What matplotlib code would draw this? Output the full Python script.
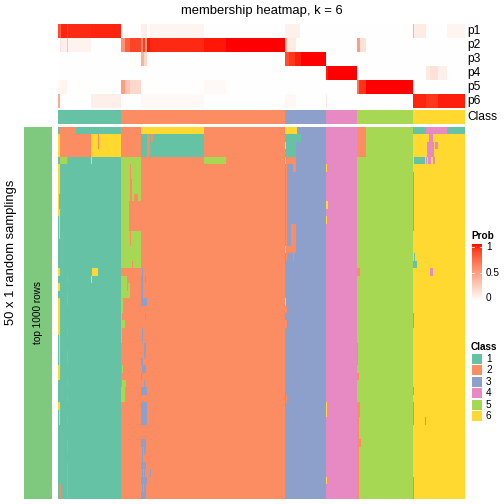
import numpy as np
import matplotlib
matplotlib.use("Agg")
import matplotlib.pyplot as plt
from matplotlib.colors import ListedColormap
from matplotlib.patches import Rectangle

plt.rcParams['font.family'] = ['Liberation Sans', 'DejaVu Sans']

# samples per consensus class (columns, left to right)
class_sizes = [63, 164, 41, 31, 56, 52]
class_names = ['1', '2', '3', '4', '5', '6']
class_colors = ['#66C2A5', '#FC8D62', '#8DA0CB', '#E78AC3', '#A6D854', '#FFD92F']
n_samplings = 50

# membership probabilities as (start col, end col, value); unlisted = 0
p1_segs = [(0, 2, 0.86), (2, 3, 0.78), (3, 9, 0.96), (9, 10, 0.85), (10, 33, 0.95),
           (33, 63, 0.96), (83, 89, 0.08), (92, 146, 0.05), (227, 242, 0.07),
           (355, 356, 0.4), (356, 368, 0.1), (389, 407, 0.05)]
p2_segs = [(2, 3, 0.15), (3, 9, 0.08), (9, 10, 0.3), (10, 33, 0.06), (63, 67, 0.55),
           (67, 72, 0.78), (72, 83, 0.88), (83, 85, 0.6), (85, 87, 0.9), (87, 89, 0.5),
           (89, 92, 0.98), (92, 146, 0.95), (146, 168, 0.98), (168, 227, 1.0),
           (227, 229, 0.35), (229, 238, 0.1), (299, 302, 0.5), (302, 308, 0.15)]
p3_segs = [(83, 86, 0.4), (86, 89, 0.2), (227, 231, 0.85), (231, 237, 0.92),
           (237, 243, 0.97), (243, 268, 1.0)]
p4_segs = [(268, 270, 0.97), (270, 299, 1.0), (368, 372, 0.1), (372, 380, 0.15),
           (380, 389, 0.08)]
p5_segs = [(0, 2, 0.03), (2, 9, 0.05), (63, 67, 0.5), (67, 72, 0.3), (72, 83, 0.2),
           (146, 168, 0.03), (299, 301, 0.7), (301, 308, 0.93), (308, 355, 1.0)]
p6_segs = [(0, 2, 0.45), (33, 63, 0.08), (83, 146, 0.03), (227, 238, 0.04),
           (268, 269, 0.1), (355, 368, 0.96), (368, 380, 0.92), (380, 407, 0.97)]
prob_rows = ['p1', 'p2', 'p3', 'p4', 'p5', 'p6']

# class calls of each random sampling that differ from consensus:
# (first row, end row, first col, end col, class)
diffs = [
    (0, 1, 2, 18, 2), (1, 4, 0, 2, 6), (1, 4, 2, 33, 2), (1, 4, 33, 63, 6), (1, 3, 40, 41, 2),
    (4, 5, 2, 9, 5), (4, 5, 9, 10, 2), (4, 5, 33, 34, 6),
    (5, 9, 0, 2, 6), (9, 11, 0, 1, 6), (11, 12, 0, 2, 6), (12, 15, 1, 2, 6), (19, 20, 0, 2, 6),
    (21, 22, 0, 2, 6), (23, 28, 0, 2, 6), (28, 32, 1, 2, 6), (32, 34, 0, 2, 6), (37, 38, 0, 2, 6),
    (38, 40, 1, 2, 6), (19, 20, 34, 40, 6), (20, 21, 33, 34, 6), (48, 50, 2, 3, 2),
    (20, 21, 9, 10, 2), (22, 24, 9, 10, 2), (27, 28, 9, 10, 2), (30, 32, 9, 10, 2),
    (34, 35, 9, 10, 2), (36, 37, 9, 10, 2), (39, 40, 9, 10, 2), (42, 44, 9, 10, 2),
    (45, 50, 9, 10, 2),
    (0, 1, 83, 146, 6), (1, 4, 83, 89, 1), (1, 4, 92, 146, 1), (1, 2, 93, 95, 2),
    (4, 5, 63, 83, 5), (4, 5, 146, 168, 5), (5, 10, 63, 83, 5), (5, 7, 72, 73, 2),
    (7, 10, 72, 74, 2), (9, 10, 76, 80, 2), (10, 14, 63, 71, 5), (14, 19, 63, 83, 5),
    (14, 16, 72, 73, 2), (18, 19, 74, 75, 2), (20, 22, 63, 69, 5), (21, 22, 70, 72, 5),
    (22, 23, 63, 72, 5), (23, 25, 63, 65, 5), (25, 27, 63, 64, 5), (26, 27, 63, 67, 5),
    (27, 29, 63, 64, 5), (32, 33, 64, 65, 5), (34, 35, 64, 68, 5), (35, 37, 63, 67, 5),
    (19, 20, 84, 85, 3), (20, 21, 83, 85, 3), (20, 21, 87, 88, 3), (21, 23, 83, 85, 3),
    (23, 24, 83, 89, 3), (25, 26, 87, 88, 3), (27, 29, 84, 85, 3), (29, 31, 86, 88, 3),
    (31, 32, 83, 85, 3), (32, 33, 84, 88, 3), (33, 34, 83, 84, 3), (34, 35, 86, 87, 3),
    (35, 36, 83, 89, 3), (37, 40, 83, 89, 3), (42, 43, 83, 88, 3), (43, 44, 84, 85, 3),
    (43, 44, 86, 88, 3), (44, 45, 84, 85, 3), (45, 46, 83, 88, 3), (46, 47, 84, 85, 3),
    (46, 47, 86, 87, 3), (46, 47, 92, 93, 3), (47, 48, 83, 89, 3), (48, 49, 84, 85, 3),
    (48, 49, 86, 88, 3), (49, 50, 83, 88, 3),
    (0, 1, 227, 239, 6), (1, 4, 227, 238, 1), (1, 2, 238, 243, 1), (2, 3, 227, 228, 6),
    (4, 5, 227, 228, 6), (4, 5, 228, 238, 2), (5, 18, 228, 229, 2), (5, 6, 235, 238, 2),
    (13, 17, 233, 238, 2), (16, 17, 229, 233, 2), (16, 17, 227, 228, 6), (17, 18, 235, 236, 2),
    (23, 24, 227, 228, 6), (24, 25, 227, 229, 2), (26, 27, 227, 229, 2), (36, 37, 228, 229, 2),
    (5, 6, 268, 269, 6), (10, 11, 268, 270, 6), (12, 13, 268, 269, 6), (37, 39, 268, 269, 6),
    (47, 48, 268, 269, 6),
    (0, 4, 299, 308, 2), (19, 20, 299, 302, 2), (29, 32, 299, 300, 2), (33, 34, 299, 301, 2),
    (37, 39, 299, 302, 2), (39, 50, 299, 301, 2), (42, 43, 299, 303, 2),
    (0, 1, 355, 368, 1), (0, 1, 368, 389, 4), (0, 1, 389, 407, 1), (1, 2, 371, 375, 4),
    (2, 4, 369, 376, 4), (2, 3, 377, 380, 4), (4, 5, 356, 367, 1), (4, 5, 368, 369, 4),
    (4, 5, 370, 373, 4), (4, 5, 375, 377, 4), (6, 14, 355, 356, 1), (17, 18, 356, 357, 1),
    (18, 19, 355, 359, 1), (19, 20, 372, 375, 4), (25, 27, 355, 356, 1), (35, 36, 355, 356, 1),
    (37, 40, 355, 356, 1), (39, 40, 367, 368, 1), (47, 50, 355, 356, 1),
]


# white -> red colour ramp interpolated in LAB space
def srgb_to_lab(rgb):
    c = np.asarray(rgb, float)
    lin = np.where(c <= 0.04045, c / 12.92, ((c + 0.055) / 1.055) ** 2.4)
    m = np.array([[0.4124, 0.3576, 0.1805], [0.2126, 0.7152, 0.0722], [0.0193, 0.1192, 0.9505]])
    xyz = lin @ m.T / np.array([0.95047, 1.0, 1.08883])
    f = np.where(xyz > 0.008856, np.cbrt(xyz), 7.787 * xyz + 16 / 116)
    return np.stack([116 * f[..., 1] - 16, 500 * (f[..., 0] - f[..., 1]),
                     200 * (f[..., 1] - f[..., 2])], -1)


def lab_to_srgb(lab):
    fy = (lab[..., 0] + 16) / 116
    fx = fy + lab[..., 1] / 500
    fz = fy - lab[..., 2] / 200
    f = np.stack([fx, fy, fz], -1)
    xyz = np.where(f ** 3 > 0.008856, f ** 3, (f - 16 / 116) / 7.787) * np.array([0.95047, 1.0, 1.08883])
    m = np.array([[3.2406, -1.5372, -0.4986], [-0.9689, 1.8758, 0.0415], [0.0557, -0.2040, 1.0570]])
    lin = np.clip(xyz @ m.T, 0, 1)
    return np.clip(np.where(lin <= 0.0031308, 12.92 * lin, 1.055 * lin ** (1 / 2.4) - 0.055), 0, 1)


lab_w = srgb_to_lab([1, 1, 1])
lab_r = srgb_to_lab([1, 0, 0])


def prob_color(v):
    v = np.asarray(v, float)[..., None]
    return lab_to_srgb(lab_w * (1 - v) + lab_r * v)


n = sum(class_sizes)
labels = np.repeat(np.arange(1, 7), class_sizes)

prob = np.zeros((6, n))
for i, segs in enumerate([p1_segs, p2_segs, p3_segs, p4_segs, p5_segs, p6_segs]):
    for c0, c1, v in segs:
        prob[i, c0:c1] = v

calls = np.tile(labels, (n_samplings, 1))
for r0, r1, c0, c1, k in diffs:
    calls[r0:r1, c0:c1] = k

cls_cmap = ListedColormap(class_colors)

W = H = 504
fig = plt.figure(figsize=(7, 7), dpi=72)


def px_axes(x0, y0, x1, y1):
    ax = fig.add_axes([x0 / W, 1 - y1 / H, (x1 - x0) / W, (y1 - y0) / H])
    ax.set_axis_off()
    return ax


# membership probabilities
ax_p = px_axes(58, 24, 465, 108)
ax_p.imshow(prob_color(prob), aspect='auto', interpolation='nearest', extent=(0, n, 6, 0))
for i, name in enumerate(prob_rows):
    ax_p.annotate(name, xy=(1, i + 0.5), xycoords=('axes fraction', 'data'),
                  xytext=(2, 0), textcoords='offset points', va='center', fontsize=12)

# class annotation
ax_c = px_axes(58, 110, 465, 124)
ax_c.imshow(labels[None, :], cmap=cls_cmap, vmin=0.5, vmax=6.5, aspect='auto',
            interpolation='nearest', extent=(0, n, 1, 0))
ax_c.annotate('Class', xy=(1, 0.5), xycoords='axes fraction', xytext=(2, 0),
              textcoords='offset points', va='center', fontsize=12)

# class calls from random samplings
ax_m = px_axes(58, 127, 465, 499)
ax_m.imshow(calls, cmap=cls_cmap, vmin=0.5, vmax=6.5, aspect='auto',
            interpolation='nearest', extent=(0, n, n_samplings, 0))

# row slice bar
ax_s = fig.add_axes([24 / W, 1 - 499 / H, 28 / W, 372 / H])
ax_s.set_xticks([])
ax_s.set_yticks([])
for sp in ax_s.spines.values():
    sp.set_visible(False)
ax_s.set_facecolor('#7FC97F')
ax_s.text(0.5, 0.5, 'top 1000 rows', rotation=90, ha='center', va='center',
          fontsize=10, transform=ax_s.transAxes)

fig.text(11 / W, 1 - 252 / H, '50 x 1 random samplings', rotation=90,
         ha='center', va='center', fontsize=13)
fig.text(261.5 / W, 1 - 11 / H, 'membership heatmap, k = 6', ha='center',
         va='center', fontsize=13)

# Prob legend
fig.text(471 / W, 1 - 236 / H, 'Prob', fontsize=10, fontweight='bold', va='center')
ax_cb = fig.add_axes([472 / W, 1 - 301 / H, 10 / W, 57 / H])
grad = np.linspace(1, 0, 100)[:, None]
ax_cb.imshow(prob_color(grad), aspect='auto', extent=(0, 1, 0, 1))
ax_cb.set_axis_off()
for v in [0.5, 1.0]:
    yv = 0.05 + 0.9 * v
    ax_cb.plot([0, 0.2], [yv, yv], color='white', lw=0.8)
    ax_cb.plot([0.8, 1], [yv, yv], color='white', lw=0.8)
for v, lab in [(0, '0'), (0.5, '0.5'), (1, '1')]:
    ax_cb.text(1.4, 0.05 + 0.9 * v, lab, fontsize=10, va='center', transform=ax_cb.transAxes)

# Class legend
fig.text(471 / W, 1 - 347 / H, 'Class', fontsize=10, fontweight='bold', va='center')
ax_l = px_axes(466, 352, 504, 424)
ax_l.set_xlim(0, 38)
ax_l.set_ylim(72, 0)
for i, (name, col) in enumerate(zip(class_names, class_colors)):
    ax_l.add_patch(Rectangle((6, 2 + i * 11.4), 10, 10, facecolor=col, edgecolor='none'))
    ax_l.text(20, 7 + i * 11.4, name, fontsize=10, va='center')

fig.savefig('out.png', dpi=72)
